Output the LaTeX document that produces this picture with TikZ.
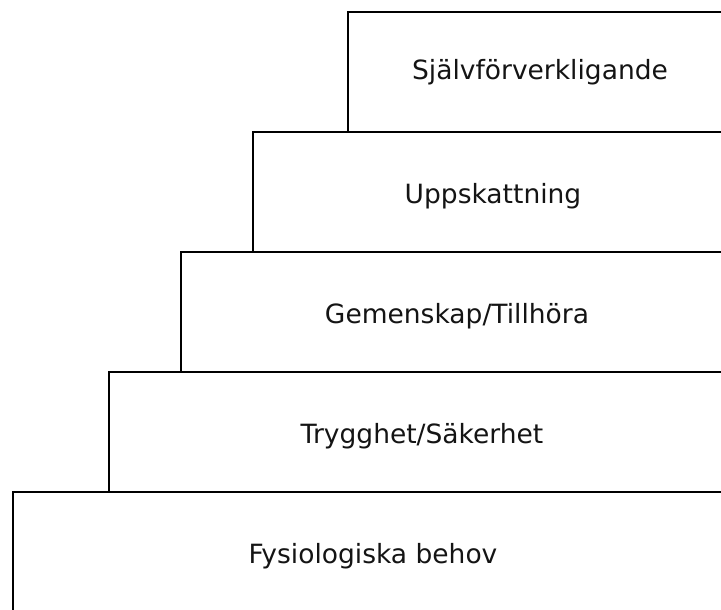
\documentclass[tikz,border=0pt]{standalone}
\usepackage{fontspec}
\setmainfont{DejaVu Sans}
\begin{document}
\begin{tikzpicture}[x=1pt,y=-1pt,
  stair/.style={draw=black,line width=1.8pt},
  lbl/.style={font=\fontsize{26.5}{30}\selectfont,text=black!92,inner sep=0pt,anchor=base}]
\useasboundingbox (0,0) rectangle (721,610);
\clip (0,0) rectangle (721,610);
\draw[stair] (348,12) rectangle (760,132);
\draw[stair] (253,132) rectangle (760,252);
\draw[stair] (181,252) rectangle (760,372);
\draw[stair] (109,372) rectangle (760,492);
\draw[stair] (13,492) rectangle (760,640);
\node[lbl] (s5) at (540,80) {Självförverkligande};
\node[lbl] (s4) at (493,203) {Uppskattning};
\node[lbl] (s3) at (457,323) {Gemenskap/Tillhöra};
\node[lbl] (s2) at (422,443) {Trygghet/Säkerhet};
\node[lbl] (s1) at (373,563) {Fysiologiska behov};
\end{tikzpicture}
\end{document}
